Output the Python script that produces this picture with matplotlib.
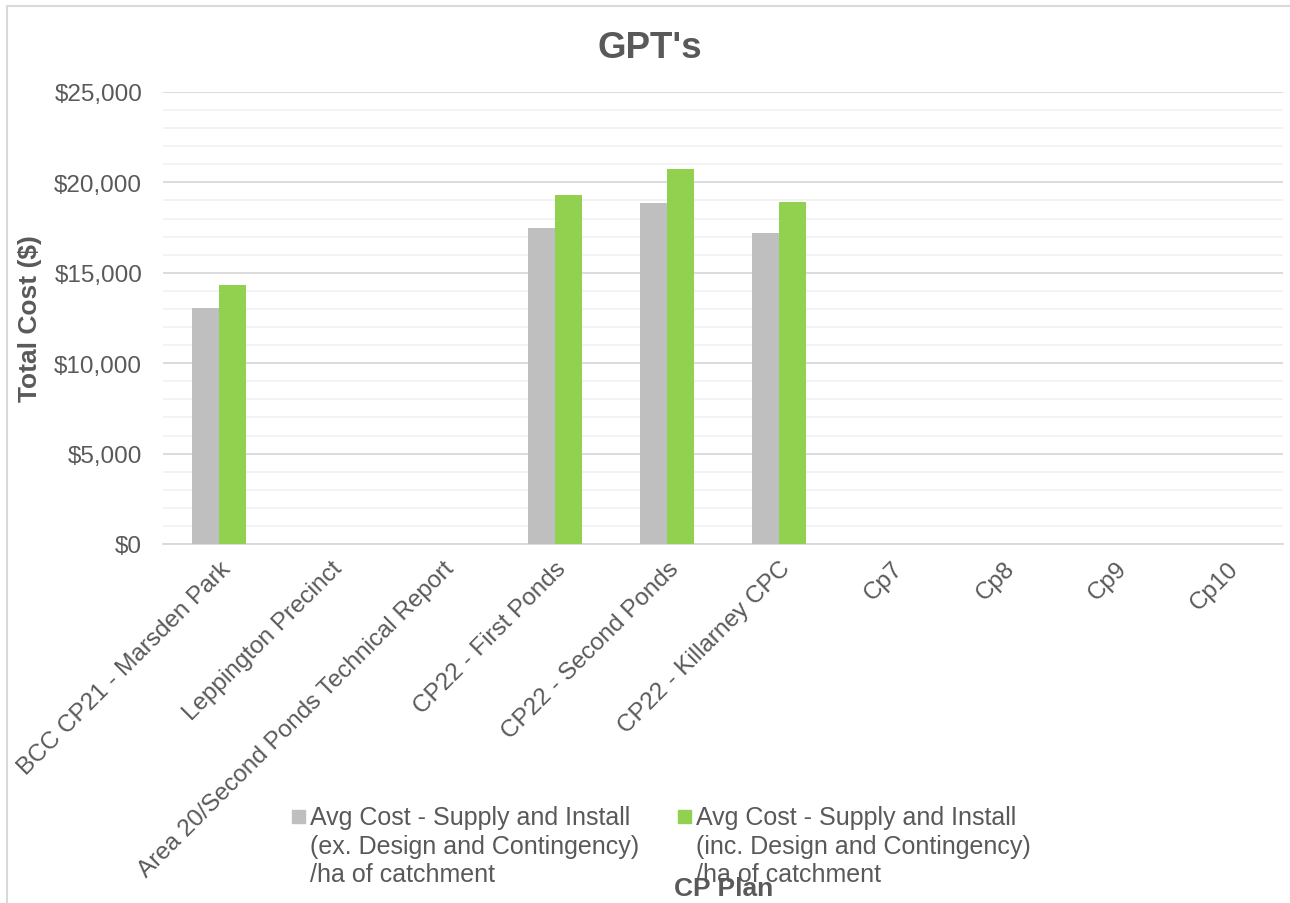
import matplotlib.pyplot as plt
import matplotlib.transforms as mtransforms
from matplotlib.patches import Rectangle
from matplotlib.ticker import FuncFormatter, MultipleLocator

plt.rcParams['font.family'] = ['Liberation Sans', 'DejaVu Sans']

categories = ['BCC CP21 - Marsden Park', 'Leppington Precinct',
              'Area 20/Second Ponds Technical Report', 'CP22 - First Ponds',
              'CP22 - Second Ponds', 'CP22 - Killarney CPC',
              'Cp7', 'Cp8', 'Cp9', 'Cp10']
cost_ex = [13050, 0, 0, 17500, 18840, 17200, 0, 0, 0, 0]
cost_inc = [14350, 0, 0, 19280, 20720, 18910, 0, 0, 0, 0]
series_labels = ['Avg Cost - Supply and Install\n(ex. Design and Contingency)\n/ha of catchment',
                 'Avg Cost - Supply and Install\n(inc. Design and Contingency)\n/ha of catchment']
series_colors = ['#bfbfbf', '#92d050']

text_col = '#595959'
W, H = 1290, 904
fs = 17.5

fig = plt.figure(figsize=(12.9, 9.04), dpi=100)
ax = fig.add_axes([163 / W, 1 - 545 / H, (1283 - 163) / W, (545 - 93) / H])

# chart border (left and top visible only)
fig.patches.append(Rectangle((7 / W, -0.1), 1.2, (904 - 7) / H + 0.1,
                             transform=fig.transFigure, fill=False,
                             edgecolor='#d9d9d9', linewidth=1.5))

x = list(range(len(categories)))
bw = 0.238
ax.bar([i - bw / 2 for i in x], cost_ex, width=bw, color=series_colors[0], zorder=3)
ax.bar([i + bw / 2 for i in x], cost_inc, width=bw, color=series_colors[1], zorder=3)

ax.set_xlim(-0.5, len(categories) - 0.5)
ax.set_ylim(0, 25000)
ax.yaxis.set_major_locator(MultipleLocator(5000))
ax.yaxis.set_minor_locator(MultipleLocator(1000))
ax.yaxis.set_major_formatter(FuncFormatter(lambda v, p: f'${v:,.0f}'))
ax.grid(axis='y', which='major', color='#d9d9d9', linewidth=1.3, zorder=0)
ax.grid(axis='y', which='minor', color='#f2f2f2', linewidth=1.3, zorder=0)
ax.set_axisbelow(True)
for s in ['top', 'right', 'left']:
    ax.spines[s].set_visible(False)
ax.spines['bottom'].set_color('#d9d9d9')
ax.spines['bottom'].set_linewidth(1.3)
ax.tick_params(axis='both', which='both', length=0, colors=text_col, labelsize=fs)
ax.tick_params(axis='y', pad=15)

ax.set_xticks(x)
ax.set_xticklabels(categories, rotation=45, ha='right', va='center',
                   rotation_mode='anchor')
offset = mtransforms.ScaledTranslation(8 / 100, -16 / 100, fig.dpi_scale_trans)
for lbl in ax.get_xticklabels():
    lbl.set_transform(lbl.get_transform() + offset)

ax.set_ylabel('Total Cost ($)', fontsize=19, fontweight='bold', color=text_col)
ax.yaxis.set_label_coords((42 - 163) / (1283 - 163), 0.5)

fig.text(650 / W, 1 - 49 / H, "GPT's", fontsize=26.5, fontweight='bold',
         color=text_col, ha='center', va='center')
fig.text(724 / W, 1 - 889 / H, 'CP Plan', fontsize=19, fontweight='bold',
         color=text_col, ha='center', va='center')

# legend
for lx, lab, col in [(292, series_labels[0], series_colors[0]),
                     (678, series_labels[1], series_colors[1])]:
    fig.patches.append(Rectangle((lx / W, 1 - 824 / H), 13 / W, 13 / H,
                                 transform=fig.transFigure, color=col))
    fig.text((lx + 18) / W, 1 - 806 / H, lab, fontsize=18, color=text_col,
             ha='left', va='top', linespacing=1.24)

fig.savefig('out.png', dpi=100)
